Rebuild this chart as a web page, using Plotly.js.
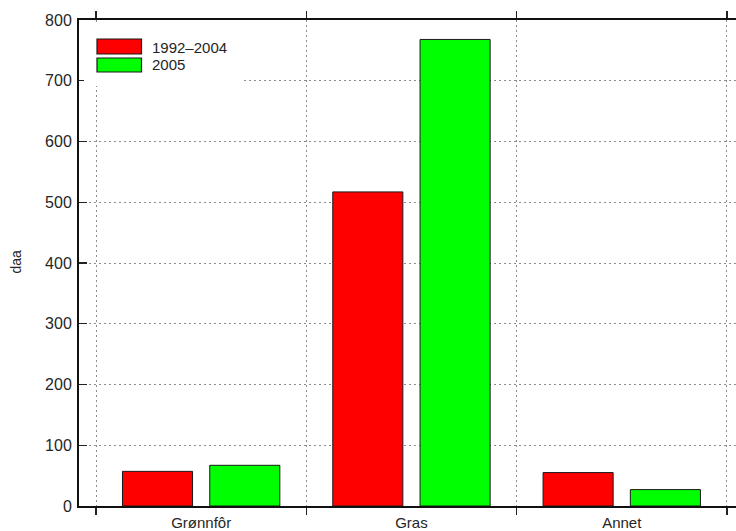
<!DOCTYPE html>
<html>
<head>
<meta charset="utf-8">
<script src="https://cdn.plot.ly/plotly-3.0.1.min.js"></script>
<style>
  html, body { margin: 0; padding: 0; background: #ffffff; }
  #chart { width: 736px; height: 531px; }
</style>
</head>
<body>
<div id="chart"></div>
<script>
// Land use (daa) per crop group
const categories = ['Grønnfôr', 'Gras', 'Annet'];
const seriesNames = ['1992–2004', '2005'];
const values1992to2004 = [57, 517, 55];
const values2005 = [67, 768, 27];
const yTickVals = [0, 100, 200, 300, 400, 500, 600, 700, 800];
const yTitle = 'daa';

const W = 736, H = 531;
const plotLeft = 79, plotTop = 20, plotBottom = 506, plotRight = 736;
const plotW = plotRight - plotLeft, plotH = plotBottom - plotTop;
const px2x = p => (p - plotLeft) / plotW;
const px2y = p => (plotBottom - p) / plotH;

const font = 'Liberation Sans, Arial, Helvetica, sans-serif';
const textColor = '#262626';
const red = '#ff0000', green = '#00ff00';

const traces = [
  {
    type: 'bar', name: seriesNames[0], x: categories, y: values1992to2004,
    marker: { color: red, line: { color: '#1a1a1a', width: 1 } },
    showlegend: false, hoverinfo: 'x+y'
  },
  {
    type: 'bar', name: seriesNames[1], x: categories, y: values2005,
    marker: { color: green, line: { color: '#1a1a1a', width: 1 } },
    showlegend: false, hoverinfo: 'x+y'
  }
];

// legend box drawn by hand (wide swatches)
const legendSwatches = [
  { color: red, y0: 39, y1: 54, label: seriesNames[0], ty: 47.5 },
  { color: green, y0: 58, y1: 72, label: seriesNames[1], ty: 65 }
];

const shapes = [
  { type: 'rect', xref: 'paper', yref: 'paper', layer: 'above',
    x0: px2x(84), x1: px2x(242), y0: px2y(86), y1: px2y(22),
    fillcolor: '#ffffff', line: { width: 0 } }
];
const annotations = [
  { xref: 'paper', yref: 'paper', x: px2x(15.5), y: px2y(262),
    xanchor: 'center', yanchor: 'middle',
    text: yTitle, textangle: -90, showarrow: false,
    font: { family: font, size: 14, color: textColor } }
];
legendSwatches.forEach(s => {
  shapes.push({ type: 'rect', xref: 'paper', yref: 'paper', layer: 'above',
    x0: px2x(97), x1: px2x(141.5), y0: px2y(s.y1), y1: px2y(s.y0),
    fillcolor: s.color, line: { color: '#1a1a1a', width: 1.2 } });
  annotations.push({ xref: 'paper', yref: 'paper', x: px2x(150), y: px2y(s.ty),
    xanchor: 'left', yanchor: 'middle', text: s.label, showarrow: false,
    font: { family: font, size: 15, color: textColor } });
});

const catPx = 210.3; // pixels per category
const layout = {
  width: W, height: H,
  margin: { l: plotLeft, r: W - plotRight, t: plotTop, b: H - plotBottom, pad: 0 },
  paper_bgcolor: '#ffffff', plot_bgcolor: '#ffffff',
  barmode: 'group', bargap: 0.17, bargroupgap: 0.197,
  font: { family: font, size: 15, color: textColor },
  xaxis: {
    type: 'category',
    range: [-0.5 - (96 - plotLeft) / catPx, -0.5 + (plotRight - 96) / catPx],
    tickson: 'boundaries',
    ticks: 'outside', ticklen: 7, tickwidth: 1.2, tickcolor: '#222',
    showline: true, linecolor: '#111', linewidth: 2, mirror: 'ticks',
    showgrid: true, gridcolor: '#8c8c8c', gridwidth: 1, griddash: '2px,3px',
    ticklabelstandoff: 2,
    tickfont: { family: font, size: 15, color: textColor },
    fixedrange: true
  },
  yaxis: {
    range: [0, 800], tickvals: yTickVals,
    ticks: 'inside', ticklen: 8, tickwidth: 1.2, tickcolor: '#222',
    showline: true, linecolor: '#111', linewidth: 2, mirror: false,
    showgrid: true, gridcolor: '#8c8c8c', gridwidth: 1, griddash: '2px,3px',
    zeroline: false,
    ticklabelstandoff: 2,
    tickfont: { family: font, size: 16, color: textColor },
    fixedrange: true
  },
  shapes: shapes,
  annotations: annotations
};

Plotly.newPlot('chart', traces, layout, { displayModeBar: false, staticPlot: true });
</script>
</body>
</html>
